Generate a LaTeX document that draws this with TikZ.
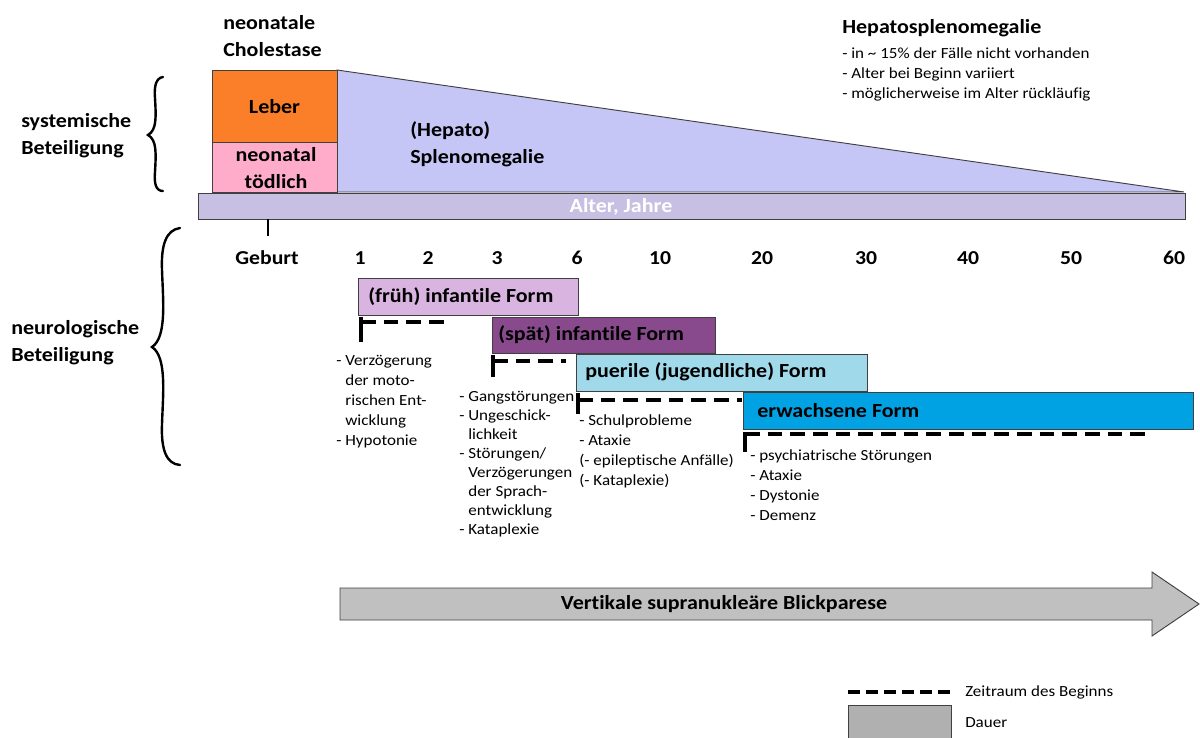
\documentclass[tikz,border=0pt]{standalone}
\usepackage{fontspec}
\setmainfont{Carlito}[FakeStretch=1.1,Ligatures=NoCommon]
\definecolor{cOrange}{RGB}{250,127,40}
\definecolor{cPink}{RGB}{255,172,202}
\definecolor{cLav}{RGB}{198,198,246}
\definecolor{cAxis}{RGB}{200,192,226}
\definecolor{cFrueh}{RGB}{218,180,224}
\definecolor{cSpaet}{RGB}{136,74,140}
\definecolor{cPuer}{RGB}{160,218,234}
\definecolor{cErw}{RGB}{0,162,228}
\definecolor{cArrow}{RGB}{192,192,192}
\definecolor{cLeg}{RGB}{176,176,176}
\begin{document}
\begin{tikzpicture}[x=0.75pt,y=-0.75pt,
  blbl/.style={font=\fontsize{15}{20.5}\selectfont\bfseries,inner sep=0,align=left},
  nums/.style={font=\fontsize{14.8}{16}\selectfont\bfseries,inner sep=0},
  bul/.style={font=\fontsize{11.6}{15}\selectfont,inner sep=0,align=left,anchor=north west},
  box/.style={draw=black!75,line width=0.7pt},
  formtxt/.style={font=\fontsize{15}{17}\selectfont\bfseries,inner sep=0,anchor=west},
  onset/.style={line width=2.3pt,dash pattern=on 11pt off 6pt},
  bar/.style={line width=2.3pt},
  brc/.style={line width=1.8pt,line cap=round}
]
\useasboundingbox (0,0) rectangle (1200,738);

% systemic part
\draw[box,fill=cLav] (337,70) -- (1184,192) -- (337,192) -- cycle;
\draw[box,fill=cOrange] (212,70) rectangle (337,142);
\draw[box,fill=cPink] (212,142) rectangle (337,192);
\draw[box,fill=cAxis] (198,193) rectangle (1185,219);
\node[blbl] (leber) at (274.5,107) {Leber};
\node[blbl,align=center] (toedlich) at (276,168) {neonatal\\tödlich};
\node[blbl,anchor=west] (chol) at (223,36) {neonatale\\Cholestase};
\node[blbl,anchor=west] (splen) at (410,144) {(Hepato)\\Splenomegalie};
\node[blbl,anchor=center,text=white] (alter) at (621,207) {Alter, Jahre};
\node[blbl,anchor=west] (hsm) at (842,28) {Hepatosplenomegalie};
\node[bul] (hsmlist) at (842,47) {- in \textasciitilde{} 15\% der Fälle nicht vorhanden\\- Alter bei Beginn variiert\\- möglicherweise im Alter rückläufig};
\node[blbl,anchor=west] (sys) at (21,136) {systemische\\Beteiligung};
\node[blbl,anchor=west] (neuro) at (11,343) {neurologische\\Beteiligung};

% braces
\draw[brc] (163,77) .. controls (156,78) and (154,86) .. (155,98) .. controls (156,116) and (157,130) .. (148,135) .. controls (157,140) and (156,154) .. (155,172) .. controls (154,184) and (156,191) .. (163,191);
\draw[brc] (180,228) .. controls (166,230) and (161,245) .. (162,270) .. controls (163,300) and (167,337) .. (152,347) .. controls (167,357) and (163,394) .. (162,424) .. controls (161,449) and (166,464) .. (180,465);

% axis
\coordinate (tickA) at (268,219);
\coordinate (tickB) at (268,236);
\draw[bar,line width=1.8pt] (tickA) -- (tickB);
\node[nums] (geb) at (267,258) {Geburt};
\node[nums] (n1) at (360,258) {1};
\node[nums] (n2) at (428,258) {2};
\node[nums] (n3) at (497,258) {3};
\node[nums] (n6) at (577,258) {6};
\node[nums] (n10) at (660,258) {10};
\node[nums] (n20) at (762,258) {20};
\node[nums] (n30) at (866,258) {30};
\node[nums] (n40) at (968,258) {40};
\node[nums] (n50) at (1071,258) {50};
\node[nums] (n60) at (1174,258) {60};

% forms
\draw[box,fill=cFrueh] (358,278) rectangle (578,315);
\node[formtxt] (frueh) at (368,297) {(früh) infantile Form};
\draw[bar] (361,317) -- (361,342);
\draw[onset] (361,322) -- (446,322);
\node[bul] (fruehlist) at (336,355) {- Verzögerung\\\hphantom{- }der moto-\\\hphantom{- }rischen Ent-\\\hphantom{- }wicklung\\- Hypotonie};

\draw[box,fill=cSpaet] (492,317) rectangle (715,353);
\node[formtxt] (spaet) at (498,335) {(spät) infantile Form};
\draw[bar] (493,355) -- (493,377);
\draw[onset] (493,361) -- (566,361);
\node[bul,font=\fontsize{11.6}{14.3}\selectfont] (spaetlist) at (459,391) {- Gangstörungen\\- Ungeschick-\\\hphantom{- }lichkeit\\- Störungen/\\\hphantom{- }Verzögerungen\\\hphantom{- }der Sprach-\\\hphantom{- }entwicklung\\- Kataplexie};

\draw[box,fill=cPuer] (576,354) rectangle (867,391);
\node[formtxt] (puer) at (585,372) {puerile (jugendliche) Form};
\draw[bar] (578,393) -- (578,414);
\draw[onset] (578,400) -- (742,400);
\node[bul] (puerlist) at (579,414) {- Schulprobleme\\- Ataxie\\(- epileptische Anfälle)\\(- Kataplexie)};

\draw[box,fill=cErw] (743,392) rectangle (1193,429);
\node[formtxt] (erw) at (757,411) {erwachsene Form};
\draw[bar] (745,432) -- (745,452);
\draw[onset] (745,434) -- (1148,434);
\node[bul] (erwlist) at (750,449) {- psychiatrische Störungen\\- Ataxie\\- Dystonie\\- Demenz};

% big arrow
\draw[box,fill=cArrow] (340,588) -- (1152,588) -- (1152,572) -- (1199,604) -- (1152,636) -- (1152,620) -- (340,620) -- cycle;
\node[formtxt,anchor=center] (vsb) at (724,604) {Vertikale supranukleäre Blickparese};

% legend
\draw[onset,dash pattern=on 9pt off 4.5pt] (848,692) -- (951,692);
\node[bul,anchor=west] (leg1) at (965,692) {Zeitraum des Beginns};
\draw[box,fill=cLeg] (848,705) rectangle (951,738);
\node[bul,anchor=west] (leg2) at (965,723) {Dauer};
\end{tikzpicture}
\end{document}
